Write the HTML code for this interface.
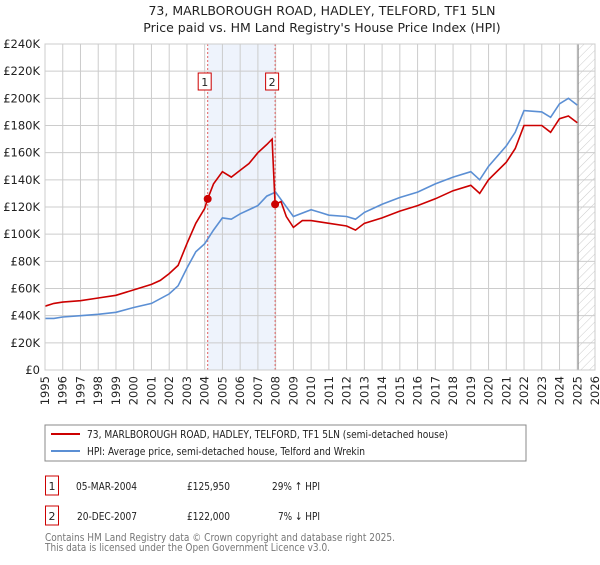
<!DOCTYPE html>
<html><head><meta charset="utf-8"><style>
body{margin:0;background:#fff;}
svg text{font-family:"DejaVu Sans","Liberation Sans",sans-serif;}
</style></head><body>
<svg id="chart" width="600" height="560" xmlns="http://www.w3.org/2000/svg">
<defs><pattern id="hatch" width="6" height="6" patternUnits="userSpaceOnUse" patternTransform="rotate(45)"><line x1="0" y1="0" x2="0" y2="6" stroke="#ccc" stroke-width="1"/></pattern></defs>
<text x="322" y="15" text-anchor="middle" font-size="12.5" fill="#222">73, MARLBOROUGH ROAD, HADLEY, TELFORD, TF1 5LN</text>
<text x="322" y="32" text-anchor="middle" font-size="12.5" fill="#222">Price paid vs. HM Land Registry's House Price Index (HPI)</text>
<g id="grid"></g>
<g id="marks"></g>
<g id="axes"></g>
<rect x="45" y="425" width="481" height="36" fill="#fff" stroke="#888"/>
<line x1="51" y1="434" x2="80" y2="434" stroke="#cc0000" stroke-width="2"/>
<text x="87" y="438" font-size="11" fill="#222" textLength="361" lengthAdjust="spacingAndGlyphs">73, MARLBOROUGH ROAD, HADLEY, TELFORD, TF1 5LN (semi-detached house)</text>
<line x1="51" y1="451" x2="80" y2="451" stroke="#5b8fd4" stroke-width="2"/>
<text x="87" y="455" font-size="11" fill="#222" textLength="278" lengthAdjust="spacingAndGlyphs">HPI: Average price, semi-detached house, Telford and Wrekin</text>
<g>
<rect x="45.5" y="476" width="13" height="19" fill="#fff" stroke="#cc0000"/>
<text x="52" y="490" text-anchor="middle" font-size="11" fill="#222">1</text>
<text x="76" y="490" font-size="11" fill="#222" textLength="61" lengthAdjust="spacingAndGlyphs">05-MAR-2004</text>
<text x="187" y="490" font-size="11" fill="#222" textLength="43" lengthAdjust="spacingAndGlyphs">£125,950</text>
<text x="272" y="490" font-size="11" fill="#222" textLength="48" lengthAdjust="spacingAndGlyphs">29% ↑ HPI</text></g>
<g>
<rect x="45.5" y="506" width="13" height="19" fill="#fff" stroke="#cc0000"/>
<text x="52" y="520" text-anchor="middle" font-size="11" fill="#222">2</text>
<text x="77" y="520" font-size="11" fill="#222" textLength="60" lengthAdjust="spacingAndGlyphs">20-DEC-2007</text>
<text x="187" y="520" font-size="11" fill="#222" textLength="43" lengthAdjust="spacingAndGlyphs">£122,000</text>
<text x="278" y="520" font-size="11" fill="#222" textLength="42" lengthAdjust="spacingAndGlyphs">7% ↓ HPI</text></g>
<text x="45" y="541" font-size="11" fill="#777" textLength="350" lengthAdjust="spacingAndGlyphs">Contains HM Land Registry data © Crown copyright and database right 2025.</text>
<text x="45" y="551" font-size="11" fill="#777" textLength="285" lengthAdjust="spacingAndGlyphs">This data is licensed under the Open Government Licence v3.0.</text>
</svg>
<script>
const yTicks=[0,20,40,60,80,100,120,140,160,180,200,220,240];
const xYears=[1995,1996,1997,1998,1999,2000,2001,2002,2003,2004,2005,2006,2007,2008,2009,2010,2011,2012,2013,2014,2015,2016,2017,2018,2019,2020,2021,2022,2023,2024,2025,2026];
const hpiT=[1995,1995.5,1996,1997,1998,1999,2000,2001,2002,2002.5,2003,2003.5,2004,2004.5,2005,2005.5,2006,2007,2007.5,2008,2008.5,2009,2010,2010.5,2011,2012,2012.5,2013,2014,2015,2016,2017,2018,2019,2019.5,2020,2021,2021.5,2022,2023,2023.5,2024,2024.5,2025];
const hpiV=[38,38,39,40,41,42.5,46,49,56,62,75,87,93,103,112,111,115,121,128,131,122,113,118,116,114,113,111,116,122,127,131,137,142,146,140,150,165,175,191,190,186,196,200,195];
const redT=[1995,1995.5,1996,1997,1998,1999,2000,2001,2001.5,2002,2002.5,2003,2003.5,2004,2004.17,2004.5,2005,2005.5,2006,2006.5,2007,2007.5,2007.8,2007.97,2008.3,2008.6,2009,2009.5,2010,2011,2012,2012.5,2013,2014,2015,2016,2017,2018,2019,2019.5,2020,2021,2021.5,2022,2023,2023.5,2024,2024.5,2025];
const redV=[47,49,50,51,53,55,59,63,66,71,77,93,108,119,126,137,146,142,147,152,160,166,170,122,124,113,105,110,110,108,106,103,108,112,117,121,126,132,136,130,140,153,163,180,180,175,185,187,182];
const saleT=[2004.17,2007.97];
const saleV=[125.95,122];
const saleLabels=["1","2"];
const X0=45,X1=595,Y0=370,Y1=44;
const xs=t=>X0+(t-1995)/31*(X1-X0);
const ys=v=>Y0-v/240*(Y0-Y1);
const NS="http://www.w3.org/2000/svg";
function mk(tag,attrs,parent){const e=document.createElementNS(NS,tag);for(const k in attrs)e.setAttribute(k,attrs[k]);parent.appendChild(e);return e;}
const grid=document.getElementById('grid'),marks=document.getElementById('marks'),axes=document.getElementById('axes');
const shade=mk('rect',{x:xs(saleT[0]),y:Y1,width:xs(saleT[1])-xs(saleT[0]),height:Y0-Y1,fill:'#eef3fc'},grid);


const hat=mk('rect',{x:xs(2025.05),y:Y1,width:X1-xs(2025.05),height:Y0-Y1,fill:'url(#hatch)'},grid);


yTicks.forEach(v=>{mk('line',{x1:X0,x2:X1,y1:ys(v),y2:ys(v),stroke:'#ccc'},grid);
const t=mk('text',{x:X0-5,y:ys(v)+4,'text-anchor':'end','font-size':'11.5',fill:'#222'},axes);t.textContent=v===0?'£0':'£'+v+'K';

});
xYears.forEach(y=>{mk('line',{x1:xs(y),x2:xs(y),y1:Y1,y2:Y0,stroke:'#ccc'},grid);
const t=mk('text',{x:0,y:0,'text-anchor':'end','font-size':'11.5',fill:'#222',transform:`translate(${xs(y)+4},${Y0+6}) rotate(-90)`},axes);t.textContent=y;

});
const cur=mk('line',{x1:xs(2025.05),x2:xs(2025.05),y1:Y1,y2:Y0,stroke:'#888','stroke-width':1},grid);


saleT.forEach((t,i)=>{const l=mk('line',{x1:xs(t),x2:xs(t),y1:Y1,y2:Y0,stroke:'#e06060','stroke-dasharray':'2,2'},grid);


const r=mk('rect',{x:xs(t)-9.5,y:73,width:13,height:17,fill:'#fff',stroke:'#cc0000'},marks);


const tx=mk('text',{x:xs(t)-3,y:86,'text-anchor':'middle','font-size':'11',fill:'#222'},marks);tx.textContent=saleLabels[i];});
function line(T,V,c,name){const d=T.map((t,i)=>(i?'L':'M')+xs(t).toFixed(1)+','+ys(V[i]).toFixed(1)).join('');
const p=mk('path',{d,fill:'none',stroke:c,'stroke-width':1.6},marks);

}
line(hpiT,hpiV,'#5b8fd4','hpi-line');
line(redT,redV,'#cc0000','property-line');
saleT.forEach((t,i)=>{const c=mk('circle',{cx:xs(t),cy:ys(saleV[i]),r:4,fill:'#cc0000'},marks);

});
mk('rect',{x:X0,y:Y1,width:X1-X0,height:Y0-Y1,fill:'none',stroke:'#ccc'},axes);
</script>
</body></html>
